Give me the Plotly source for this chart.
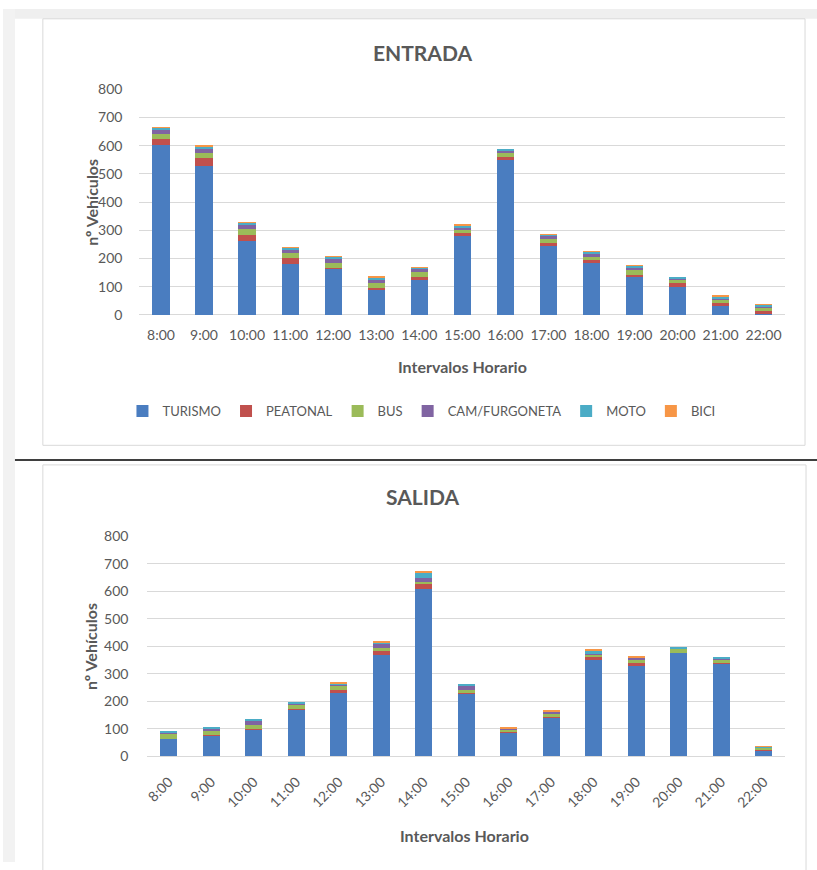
import plotly.graph_objects as go

hours = ["8:00", "9:00", "10:00", "11:00", "12:00", "13:00", "14:00", "15:00",
         "16:00", "17:00", "18:00", "19:00", "20:00", "21:00", "22:00"]
series_names = ["TURISMO", "PEATONAL", "BUS", "CAM/FURGONETA", "MOTO", "BICI"]
series_colors = ["#4A7DC0", "#C0504D", "#9BBB59", "#8064A2", "#4BACC6", "#F79646"]

# ENTRADA
entrada_turismo = [603, 530, 262, 179, 162, 87, 124, 279, 548, 245, 184, 135, 100, 31, 3]
entrada_peatonal = [20, 27, 21, 23, 5, 8, 11, 12, 12, 11, 9, 8, 12, 12, 11]
entrada_bus = [17, 16, 23, 17, 18, 18, 17, 12, 14, 15, 14, 15, 12, 11, 12]
entrada_cam = [15, 17, 13, 13, 15, 12, 10, 6, 7, 9, 10, 10, 4, 4, 4]
entrada_moto = [7, 7, 6, 6, 6, 8, 4, 8, 4, 4, 6, 5, 7, 7, 6]
entrada_bici = [2, 2, 1, 1, 1, 2, 1, 1, 0, 1, 1, 1, 0, 1, 1]

# SALIDA
salida_turismo = [61, 74, 94, 167, 231, 368, 610, 225, 83, 139, 350, 330, 374, 336, 20]
salida_peatonal = [3, 3, 3, 3, 10, 16, 18, 4, 3, 4, 12, 10, 3, 3, 2]
salida_bus = [16, 15, 16, 15, 14, 10, 8, 12, 8, 12, 6, 10, 13, 11, 8]
salida_cam = [6, 7, 14, 6, 4, 15, 12, 15, 4, 4, 4, 6, 2, 2, 1]
salida_moto = [2, 2, 3, 2, 2, 3, 20, 3, 2, 2, 12, 3, 4, 6, 2]
salida_bici = [0, 0, 0, 0, 6, 2, 8, 0, 6, 7, 6, 3, 0, 0, 2]

y_ticks = [0, 100, 200, 300, 400, 500, 600, 700, 800]

entrada = [entrada_turismo, entrada_peatonal, entrada_bus, entrada_cam, entrada_moto, entrada_bici]
salida = [salida_turismo, salida_peatonal, salida_bus, salida_cam, salida_moto, salida_bici]

W, H = 817, 870
FONT = "Lato"
GREY = "#595959"
GRID = "#d9d9d9"


def fx(x):
    return x / W


def fy(y):
    return 1 - y / H


fig = go.Figure()
for name, color, vals in zip(series_names, series_colors, entrada):
    fig.add_trace(go.Bar(x=hours, y=vals, name=name, marker_color=color,
                         marker_line_width=0, xaxis="x", yaxis="y",
                         legendgroup=name))
for name, color, vals in zip(series_names, series_colors, salida):
    fig.add_trace(go.Bar(x=hours, y=vals, name=name, marker_color=color,
                         marker_line_width=0, xaxis="x2", yaxis="y2",
                         legendgroup=name, showlegend=False))

axis_common = dict(showline=False, ticks="", tickfont=dict(family=FONT, size=14, color=GREY))
yaxis_common = dict(range=[0, 800], tickvals=y_ticks, showgrid=True, gridcolor=GRID,
                    gridwidth=1, zeroline=True, zerolinecolor=GRID, zerolinewidth=1,
                    fixedrange=True, **axis_common)

shapes = [
    # grey page edges
    dict(type="rect", xref="paper", yref="paper", x0=0, x1=1, y0=fy(10), y1=1,
         fillcolor="#efefef", line_width=0, layer="below"),
    dict(type="rect", xref="paper", yref="paper", x0=0, x1=fx(12), y0=0, y1=1,
         fillcolor="#f2f2f2", line_width=0, layer="below"),
    # chart frames
    dict(type="rect", xref="paper", yref="paper", x0=fx(40), x1=fx(805), y0=fy(445), y1=fy(10),
         line=dict(color="#d9d9d9", width=1), fillcolor="rgba(0,0,0,0)", layer="below"),
    dict(type="rect", xref="paper", yref="paper", x0=fx(40), x1=fx(806), y0=fy(880), y1=fy(465),
         line=dict(color="#d9d9d9", width=1), fillcolor="rgba(0,0,0,0)", layer="below"),
    # divider
    dict(type="line", xref="paper", yref="paper", x0=fx(12), x1=1, y0=fy(460), y1=fy(460),
         line=dict(color="#3f3f3f", width=2)),
]


def label(text, x, y, size, angle=0):
    return dict(text=text, x=fx(x), y=fy(y), xref="paper", yref="paper",
                xanchor="center", yanchor="middle", showarrow=False, textangle=angle,
                font=dict(family=FONT, size=size, color=GREY))


annotations = [
    label("<b>ENTRADA</b>", 421, 44, 21),
    label("<b>SALIDA</b>", 421, 497, 21),
    label("<b>nº Vehículos</b>", 88, 197, 16, -90),
    label("<b>nº Vehículos</b>", 88, 650, 16, -90),
    label("<b>Intervalos Horario</b>", 461, 365, 16),
    label("<b>Intervalos Horario</b>", 463, 843, 16),
]

fig.update_layout(
    width=W, height=H,
    margin=dict(l=0, r=0, t=0, b=0),
    paper_bgcolor="white", plot_bgcolor="white",
    barmode="stack", bargap=0.6,
    showlegend=True,
    legend=dict(orientation="h", x=fx(420), xanchor="center", y=fy(410), yanchor="middle",
                font=dict(family=FONT, size=13, color=GREY), traceorder="normal",
                itemwidth=30, bgcolor="rgba(0,0,0,0)"),
    xaxis=dict(domain=[fx(137), fx(785)], anchor="y", type="category",
               tickangle=0, ticklabelstandoff=10, fixedrange=True, **axis_common),
    yaxis=dict(domain=[fy(312), fy(82)], anchor="x", ticklabelstandoff=16, **yaxis_common),
    xaxis2=dict(domain=[fx(145), fx(785)], anchor="y2", type="category",
                tickangle=-45, ticklabelstandoff=14, fixedrange=True, **axis_common),
    yaxis2=dict(domain=[fy(762), fy(538)], anchor="x2", ticklabelstandoff=18, **yaxis_common),
    shapes=shapes,
    annotations=annotations,
)

fig.write_html("out.html")
